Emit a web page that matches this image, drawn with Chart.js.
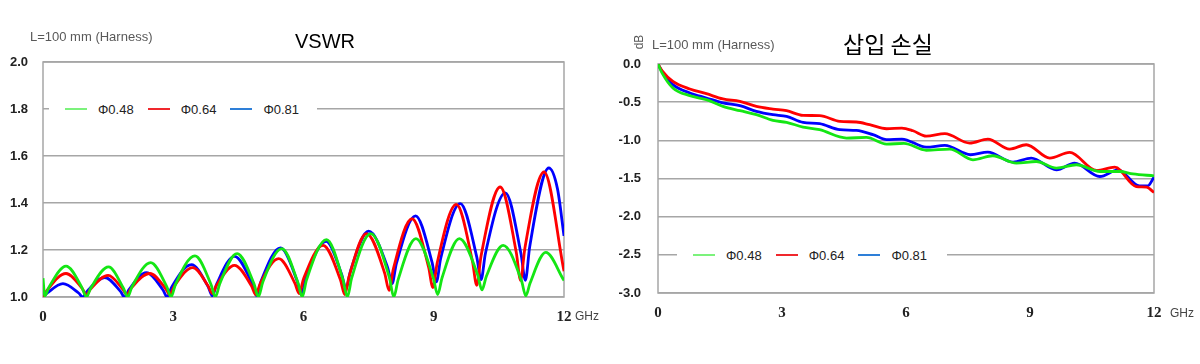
<!DOCTYPE html>
<html>
<head>
<meta charset="utf-8">
<script src="https://cdn.jsdelivr.net/npm/chart.js@4.4.0/dist/chart.umd.min.js"></script>
<style>
    body { margin: 0; background: #fff; width: 1200px; height: 364px; overflow: hidden; position: relative; font-family: "Liberation Sans", Arial, sans-serif; }
    .panel { position: absolute; top: 0; width: 600px; height: 364px; }
    .txt { position: absolute; white-space: nowrap; line-height: 1; }
    .leyenda { position: absolute; display: flex; align-items: center; background: #fff; height: 16px; }
    .leyenda .item { display: flex; align-items: center; }
    .leyenda .linea { width: 22px; height: 2px; }
    .leyenda span { font-size: 13px; color: #222; }
</style>
</head>
<body>

<div class="panel" style="left:0"><canvas id="graficoVSWR" width="600" height="364"></canvas></div>
<div class="panel" style="left:600px"><canvas id="graficoPerdida" width="600" height="364"></canvas></div>

<div class="txt" style="left:30px; top:30px; font-size:13px; color:#595959;">L=100 mm (Harness)</div>
<div class="txt" style="left:295px; top:31px; font-size:20px; color:#000;">VSWR</div>
<div class="txt" style="left:575px; top:310px; font-size:12px; color:#444;">GHz</div>

<div class="txt" style="left:632px; top:36px; font-size:12px; color:#595959; transform:rotate(-90deg);">dB</div>
<div class="txt" style="left:652px; top:38px; font-size:13px; color:#595959;">L=100 mm (Harness)</div>
<div class="txt" style="left:843px; top:32px; font-size:23px; color:#000; font-family:'Noto Sans CJK KR', sans-serif;">삽입 손실</div>
<div class="txt" style="left:1170px; top:307px; font-size:12px; color:#444;">GHz</div>

<div class="leyenda" id="leyendaVSWR" style="left:49px; top:101px; width:268px;"></div>
<div class="leyenda" id="leyendaPerdida" style="left:677px; top:247px; width:270px;"></div>

<script>
// series
const nombresSeries = ['Φ0.48', 'Φ0.64', 'Φ0.81'];
const coloresLinea = ['#14e614', '#ff0000', '#0000ff'];
const coloresLeyenda = ['#7cf27c', '#f0282d', '#2e7fd8'];

// ticks
const ticksFrecuencia = [0, 3, 6, 9, 12];
const ticksVSWR = [1.0, 1.2, 1.4, 1.6, 1.8, 2.0];
const ticksPerdida = [0.0, -0.5, -1.0, -1.5, -2.0, -2.5, -3.0];

// VSWR (GHz / valor)
const frecVswr048 = [0, 0.04, 0.14, 0.53, 0.9, 1.0, 1.1, 1.51, 1.85, 1.95, 2.05, 2.48, 2.85, 2.95, 3.05, 3.5, 3.87, 3.97, 4.07, 4.47, 4.86, 4.96, 5.06, 5.5, 5.87, 5.97, 6.07, 6.53, 6.91, 7.01, 7.11, 7.55, 7.98, 8.08, 8.18, 8.59, 8.99, 9.09, 9.19, 9.59, 10.01, 10.11, 10.21, 10.6, 11.02, 11.12, 11.22, 11.58, 12];
const vswr048 = [1.08, 1.005, 1.043, 1.131, 1.039, 1.0, 1.038, 1.128, 1.038, 1.0, 1.044, 1.146, 1.044, 1.0, 1.053, 1.175, 1.053, 1.0, 1.056, 1.185, 1.056, 1.0, 1.062, 1.206, 1.062, 1.0, 1.073, 1.244, 1.073, 1.0, 1.081, 1.27, 1.081, 1.0, 1.074, 1.248, 1.081, 1.01, 1.081, 1.248, 1.095, 1.03, 1.087, 1.22, 1.07, 1.005, 1.06, 1.19, 1.07];

const frecVswr064 = [0, 0.1, 0.53, 0.9, 1.0, 1.1, 1.5, 1.83, 1.93, 2.03, 2.46, 2.82, 2.92, 3.02, 3.45, 3.8, 3.9, 4.0, 4.41, 4.8, 4.9, 5.0, 5.43, 5.8, 5.9, 6.0, 6.45, 6.85, 6.95, 7.05, 7.45, 7.87, 7.97, 8.07, 8.5, 8.88, 8.98, 9.08, 9.52, 9.89, 9.99, 10.09, 10.53, 10.9, 11.0, 11.1, 11.54, 12];
const vswr064 = [1.0, 1.03, 1.10, 1.037, 1.01, 1.035, 1.092, 1.035, 1.01, 1.037, 1.10, 1.037, 1.01, 1.045, 1.125, 1.048, 1.015, 1.051, 1.135, 1.048, 1.01, 1.056, 1.163, 1.059, 1.015, 1.077, 1.22, 1.073, 1.01, 1.088, 1.27, 1.101, 1.028, 1.12, 1.333, 1.128, 1.04, 1.146, 1.394, 1.153, 1.05, 1.175, 1.468, 1.19, 1.071, 1.209, 1.532, 1.11];

const frecVswr081 = [0, 0.1, 0.46, 0.82, 0.92, 1.02, 1.42, 1.78, 1.88, 1.98, 2.38, 2.76, 2.86, 2.96, 3.42, 3.8, 3.9, 4.0, 4.41, 4.82, 4.92, 5.02, 5.47, 5.85, 5.95, 6.05, 6.52, 6.88, 6.98, 7.08, 7.5, 7.94, 8.04, 8.14, 8.58, 8.96, 9.06, 9.16, 9.61, 9.99, 10.09, 10.19, 10.65, 11.01, 11.11, 11.21, 11.65, 11.85, 12];
const vswr081 = [1.0, 1.017, 1.057, 1.017, 1.0, 1.025, 1.083, 1.025, 1.0, 1.031, 1.104, 1.031, 1.0, 1.041, 1.138, 1.045, 1.005, 1.055, 1.173, 1.055, 1.005, 1.066, 1.209, 1.07, 1.01, 1.078, 1.237, 1.096, 1.035, 1.109, 1.28, 1.124, 1.057, 1.143, 1.345, 1.148, 1.064, 1.164, 1.397, 1.171, 1.074, 1.185, 1.443, 1.183, 1.071, 1.214, 1.549, 1.46, 1.26];

// 삽입 손실 (GHz / dB)
const frecPerd048 = [0, 0.1, 0.36, 0.77, 1.17, 1.57, 1.98, 2.38, 2.78, 3.11, 3.51, 3.91, 4.56, 5.04, 5.53, 5.95, 6.49, 7.06, 7.62, 8.1, 8.67, 9.15, 9.64, 10.12, 10.69, 11.17, 11.49, 12];
const perd048 = [0, -0.12, -0.314, -0.415, -0.467, -0.555, -0.612, -0.664, -0.739, -0.765, -0.826, -0.861, -0.97, -0.962, -1.049, -1.04, -1.13, -1.115, -1.255, -1.202, -1.298, -1.277, -1.364, -1.32, -1.408, -1.408, -1.44, -1.465];

const frecPerd064 = [0, 0.1, 0.36, 0.77, 1.17, 1.57, 1.98, 2.38, 2.78, 3.11, 3.51, 3.91, 4.4, 4.8, 5.12, 5.53, 5.9, 6.17, 6.49, 6.94, 7.54, 7.98, 8.51, 8.91, 9.48, 9.96, 10.61, 11.05, 11.57, 11.82, 12];
const perd064 = [0, -0.09, -0.227, -0.327, -0.389, -0.458, -0.49, -0.555, -0.59, -0.612, -0.673, -0.677, -0.752, -0.76, -0.795, -0.848, -0.839, -0.875, -0.945, -0.913, -1.036, -0.983, -1.114, -1.058, -1.232, -1.159, -1.395, -1.351, -1.605, -1.613, -1.683];

const frecPerd081 = [0, 0.1, 0.36, 0.77, 1.17, 1.57, 1.98, 2.38, 2.78, 3.11, 3.51, 3.91, 4.4, 4.8, 5.2, 5.53, 5.9, 6.49, 6.94, 7.56, 7.98, 8.59, 9.03, 9.64, 10.08, 10.69, 11.13, 11.65, 11.85, 12];
const perd081 = [0, -0.1, -0.27, -0.38, -0.445, -0.51, -0.546, -0.62, -0.664, -0.686, -0.765, -0.782, -0.861, -0.87, -0.926, -0.99, -0.983, -1.09, -1.067, -1.189, -1.154, -1.285, -1.232, -1.386, -1.298, -1.474, -1.386, -1.596, -1.596, -1.482];


// borde gris alrededor del area del grafico
const bordeArea = {
    id: 'bordeArea',
    beforeDatasetsDraw(chart) {
        const { ctx, chartArea: a } = chart;
        ctx.save();
        ctx.strokeStyle = '#a6a6a6';
        ctx.lineWidth = 1.5;
        ctx.strokeRect(a.left, a.top, a.right - a.left, a.bottom - a.top);
        ctx.restore();
    }
};

function armarPuntos(frecuencias, valores) {
    return frecuencias.map((f, i) => ({ x: f, y: valores[i] }));
}

function armarDatasets(listaFrec, listaValores) {
    return nombresSeries.map((nombre, i) => ({
        label: nombre,
        data: armarPuntos(listaFrec[i], listaValores[i]),
        borderColor: coloresLinea[i],
        borderWidth: 2.8,
        pointRadius: 0,
        fill: false,
        cubicInterpolationMode: 'monotone'
    }));
}

function crearGrafico(idCanvas, datasets, ticksY, anchoY, altoX, relleno, padY, padX) {
    const ctx = document.getElementById(idCanvas).getContext('2d');
    return new Chart(ctx, {
        type: 'line',
        data: { datasets: datasets },
        options: {
            responsive: false,
            animation: false,
            events: [],
            layout: { padding: relleno },
            plugins: { legend: { display: false }, tooltip: { enabled: false } },
            scales: {
                x: {
                    type: 'linear',
                    min: 0,
                    max: 12,
                    afterBuildTicks: (eje) => { eje.ticks = ticksFrecuencia.map(v => ({ value: v })); },
                    afterFit: (eje) => { eje.height = altoX; },
                    grid: { display: false, drawTicks: false },
                    border: { display: false },
                    ticks: {
                        padding: padX,
                        maxRotation: 0,
                        color: '#222',
                        font: { family: '"Liberation Serif", "Times New Roman", serif', size: 15, weight: 'bold' },
                        callback: (v) => v
                    }
                },
                y: {
                    min: Math.min(...ticksY),
                    max: Math.max(...ticksY),
                    afterBuildTicks: (eje) => { eje.ticks = ticksY.map(v => ({ value: v })); },
                    afterFit: (eje) => { eje.width = anchoY; },
                    grid: { color: '#a6a6a6', lineWidth: 1.5, drawTicks: false },
                    border: { display: false },
                    ticks: {
                        padding: padY,
                        color: '#222',
                        font: { family: '"Liberation Sans", Arial, sans-serif', size: 13, weight: 'bold' },
                        callback: (v) => Number(v).toFixed(1)
                    }
                }
            }
        },
        plugins: [bordeArea]
    });
}

function crearLeyenda(idDiv) {
    let contenido = ``;
    nombresSeries.forEach((nombre, i) => {
        contenido += `
        <div class="item" style="margin-left:${i === 0 ? 16 : 14}px">
            <div class="linea" style="background:${coloresLeyenda[i]}"></div>
            <span style="margin-left:11px">${nombre}</span>
        </div>`;
    });
    document.getElementById(idDiv).innerHTML = contenido;
}

crearGrafico('graficoVSWR',
    armarDatasets([frecVswr048, frecVswr064, frecVswr081], [vswr048, vswr064, vswr081]),
    ticksVSWR, 43, 67, { top: 62, right: 36, left: 0, bottom: 0 }, 15, 11);

crearGrafico('graficoPerdida',
    armarDatasets([frecPerd048, frecPerd064, frecPerd081], [perd048, perd064, perd081]),
    ticksPerdida, 58, 71, { top: 64, right: 46, left: 0, bottom: 0 }, 17, 11);

crearLeyenda('leyendaVSWR');
crearLeyenda('leyendaPerdida');
</script>
</body>
</html>
